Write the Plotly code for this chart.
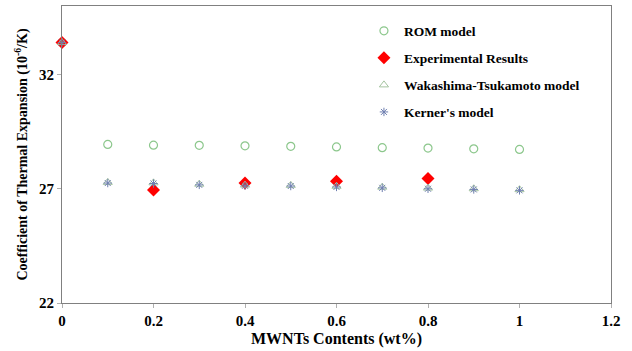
import plotly.graph_objects as go

# MWNT content (wt%) and CTE values (10^-6/K)
x_models = [0, 0.1, 0.2, 0.3, 0.4, 0.5, 0.6, 0.7, 0.8, 0.9, 1.0]
rom = [33.4, 28.94, 28.91, 28.9, 28.88, 28.86, 28.83, 28.8, 28.78, 28.75, 28.72]
wakashima = [33.4, 27.28, 27.26, 27.2, 27.16, 27.15, 27.11, 27.07, 27.03, 27.0, 26.96]
kerner = [33.4, 27.25, 27.23, 27.17, 27.13, 27.12, 27.08, 27.04, 27.0, 26.97, 26.93]

x_exp = [0, 0.2, 0.4, 0.6, 0.8]
experimental = [33.4, 26.95, 27.25, 27.33, 27.45]

x_ticks = [0, 0.2, 0.4, 0.6, 0.8, 1, 1.2]
y_ticks = [22, 27, 32]

font_family = "Liberation Serif"

fig = go.Figure()
fig.add_trace(go.Scatter(
    x=x_models, y=rom, mode="markers", name="<b>ROM model</b>",
    legendgroup="rom", cliponaxis=False,
    marker=dict(symbol="circle-open", size=8, color="#8cc78c", line=dict(width=1.2)),
))
fig.add_trace(go.Scatter(
    x=x_exp, y=experimental, mode="markers", name="<b>Experimental Results</b>",
    legendgroup="exp", cliponaxis=False,
    marker=dict(symbol="diamond", size=10, color="#ff0000"),
))
fig.add_trace(go.Scatter(
    x=x_models, y=wakashima, mode="markers", name="<b>Wakashima-Tsukamoto model</b>",
    legendgroup="wt", cliponaxis=False,
    marker=dict(symbol="triangle-up-open", size=8, color="#a5c4a0", line=dict(width=1)),
))
fig.add_trace(go.Scatter(
    x=x_models, y=kerner, mode="markers", name="<b>Kerner's model</b>",
    legendgroup="kerner", cliponaxis=False,
    marker=dict(symbol="asterisk-open", size=7, color="#6f7fb0", line=dict(width=1)),
))

axis_common = dict(
    showgrid=False, zeroline=False, showline=True, linecolor="#808080", linewidth=1,
    mirror=True, ticks="outside", ticklen=4, tickcolor="#b0b0b0",
    tickfont=dict(family=font_family, size=15, color="black", weight="bold"),
)

fig.update_layout(
    width=632, height=351,
    margin=dict(l=62, r=21, t=6, b=48),
    paper_bgcolor="white", plot_bgcolor="white",
    font=dict(family=font_family, color="black"),
    showlegend=True,
    legend=dict(
        x=0.55, y=0.968, xanchor="left", yanchor="top",
        font=dict(family=font_family, size=13.5, color="black"),
        tracegroupgap=6.5, itemsizing="trace", itemwidth=30,
        bgcolor="rgba(0,0,0,0)",
    ),
    xaxis=dict(
        range=[0, 1.2], tickvals=x_ticks, ticktext=[str(v) for v in x_ticks],
        title=dict(text="<b>MWNTs Contents (wt%)</b>", font=dict(family=font_family, size=16), standoff=4),
        **axis_common,
    ),
    yaxis=dict(
        range=[22, 35], tickvals=y_ticks,
        title=dict(text="<b>Coefficient of Thermal Expansion (10<sup>-6</sup>/K)</b>",
                   font=dict(family=font_family, size=14), standoff=8),
        **axis_common,
    ),
)

fig.write_html("out.html")
